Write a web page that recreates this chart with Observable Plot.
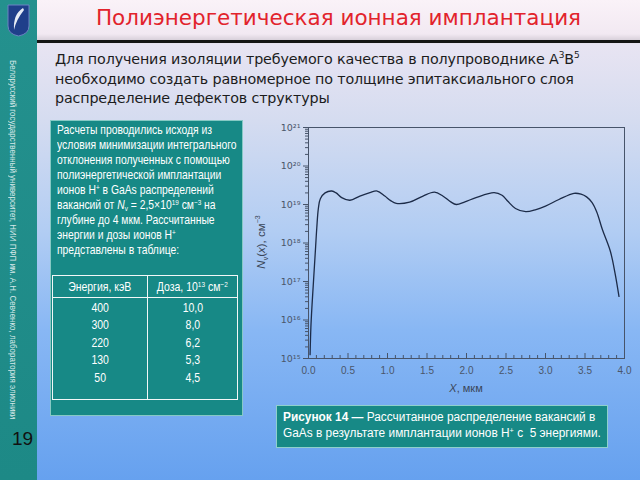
<!DOCTYPE html>
<html><head><meta charset="utf-8">
<script src="https://cdn.jsdelivr.net/npm/d3@7"></script>
<script src="https://cdn.jsdelivr.net/npm/@observablehq/plot@0.6"></script>
<style>
html,body{margin:0;padding:0;}
body{width:640px;height:480px;overflow:hidden;position:relative;font-family:"Liberation Sans",Arial,sans-serif;
background:linear-gradient(to bottom,#faf2f8 0px,#f2e9f2 34px,#d8d0da 40px,#e8e4f2 44px,#d5dcf0 120px,#b2cdf3 230px,#88b7f4 330px,#66a1ef 480px);}
.abs{position:absolute;}
#sidebar{left:0;top:0;width:37px;height:480px;background:linear-gradient(to bottom,#24918e,#1d8986);}
#rule{left:37px;top:40px;width:603px;height:3px;background:#151515;}
#title{left:37px;width:603px;top:5px;text-align:center;font-family:"DejaVu Sans",sans-serif;font-size:21.5px;color:#e2232c;}
#para{left:55px;top:50px;font-family:"DejaVu Sans",sans-serif;font-size:14.3px;line-height:19.5px;color:#1c1c1c;letter-spacing:-0.15px;}
#para sup{font-size:9px;vertical-align:6px;line-height:0;}
#vert{left:8px;top:60px;writing-mode:vertical-rl;font-size:9px;color:#d6e8e8;white-space:nowrap;transform:scaleY(0.885);transform-origin:0 0;}
#page{left:12px;top:428px;font-size:19px;color:#111;}
#box{left:50px;top:120px;width:191px;height:294px;background:#178986;border:1px solid #86c9c4;}
#boxtext{left:57px;top:123px;color:#fff;font-size:12.2px;line-height:15px;white-space:nowrap;transform:scaleX(0.85);transform-origin:0 0;}
#boxtext sup{font-size:7.5px;vertical-align:4px;line-height:0;}
#boxtext sub{font-size:7.5px;vertical-align:-2px;line-height:0;}
table{border-collapse:collapse;color:#fff;font-size:12.2px;}
#tbl{left:52px;top:275px;width:186px;height:125px;}
#tbl td,#tbl th{border:1.5px solid #f2f7f7;text-align:center;font-weight:normal;padding:0;}
#tbl th{height:21px;}
#tbl td{vertical-align:top;line-height:17.4px;padding-top:2px;}
#tbl span{display:inline-block;transform:scaleX(0.86);white-space:nowrap;}
#tbl sup{font-size:7.5px;vertical-align:4px;line-height:0;}
#caption{left:276px;top:405px;width:330px;height:41px;background:#178986;border:1px solid #8fd0cb;}
#captext{left:283px;top:410px;color:#fff;font-size:12.3px;line-height:15.5px;white-space:nowrap;transform:scaleX(0.965);transform-origin:0 0;}
#captext sup{font-size:7.5px;vertical-align:4px;line-height:0;}
#chart{left:254px;top:110px;}
#ylab{left:221px;top:236px;width:80px;text-align:center;transform:rotate(-90deg);font-size:11.5px;color:#3a4658;white-space:nowrap;}
#ylab sub,#ylab sup{font-size:7px;line-height:0;}
#xlab{left:426px;top:382px;width:80px;text-align:center;font-size:11px;color:#3a4658;}
</style></head>
<body>
<div id="sidebar" class="abs"></div>
<svg class="abs" style="left:7px;top:4px" width="23" height="33" viewBox="0 0 23 33">
<path d="M1,1 H22 V22 Q22,30 11.5,32 Q1,30 1,22 Z" fill="#1f3f8a" stroke="#6b83c2" stroke-width="1"/>
<path d="M16,4 Q6,10 7,26 Q9,16 17,6 Z" fill="#e6ecf6"/>
</svg>
<div id="rule" class="abs"></div>
<div id="title" class="abs">Полиэнергетическая ионная имплантация</div>
<div id="para" class="abs">Для получения изоляции требуемого качества в полупроводнике A<sup>3</sup>B<sup>5</sup><br>необходимо создать равномерное по толщине эпитаксиального слоя<br>распределение дефектов структуры</div>
<div id="vert" class="abs">Белорусский государственный университет, НИИ ПФП им. А.Н. Севченко, лаборатория элионики</div>
<div id="page" class="abs">19</div>
<div id="box" class="abs"></div>
<div id="boxtext" class="abs">Расчеты проводились исходя из<br>условия минимизации интегрального<br>отклонения полученных с помощью<br>полиэнергетической имплантации<br>ионов H<sup>+</sup> в GaAs распределений<br>вакансий от <i>N</i><sub>v</sub> = 2,5×10<sup>19</sup> см<sup>−3</sup> на<br>глубине до 4 мкм. Рассчитанные<br>энергии и дозы ионов H<sup>+</sup><br>представлены в таблице:</div>
<table id="tbl" class="abs"><tr><th style="width:94px"><span>Энергия, кэВ</span></th><th><span>Доза, 10<sup>13</sup> см<sup>−2</sup></span></th></tr>
<tr><td><span id="ecol"></span></td><td><span id="dcol"></span></td></tr></table>
<div id="chart" class="abs"></div>
<div id="ylab" class="abs"><i>N</i><sub>v</sub>(<i>x</i>), см<sup>−3</sup></div>
<div id="xlab" class="abs"><i>X</i>, мкм</div>
<div id="caption" class="abs"></div>
<div id="captext" class="abs"><b>Рисунок 14 —</b> Рассчитанное распределение вакансий в<br>GaAs в результате имплантации ионов H<sup>+</sup> с&nbsp; 5 энергиями.</div>
<script>
// Table data
const energies = ["400", "300", "220", "130", "50"];
const doses = ["10,0", "8,0", "6,2", "5,3", "4,5"];
// Curve data: depth (µm) and vacancy concentration (cm^-3)
const depth = [0.02,0.03,0.045,0.06,0.075,0.09,0.105,0.125,0.15,0.21,0.295,0.35,0.42,0.525,0.65,0.777,0.869,0.966,1.04,1.11,1.28,1.45,1.595,1.70,1.80,1.87,1.98,2.12,2.35,2.45,2.52,2.62,2.75,2.88,3.00,3.17,3.36,3.45,3.52,3.59,3.65,3.72,3.82,3.88,3.93];
const vacancies = [1.26e15,6.3e15,2.5e16,7.9e16,2.5e17,7.9e17,2.5e18,7.9e18,1.41e19,2.0e19,2.24e19,2.0e19,1.51e19,1.29e19,1.66e19,2.04e19,2.24e19,1.66e19,1.26e19,1.07e19,1.15e19,1.66e19,2.09e19,1.66e19,1.17e19,1.0e19,1.17e19,1.51e19,2.04e19,1.74e19,1.23e19,7.9e18,6.5e18,7.4e18,9.1e18,1.35e19,1.95e19,1.86e19,1.58e19,1.12e19,6.3e18,2.24e18,6.2e17,1.66e17,4.1e16];
// Ticks
const xTicks = [0, 0.5, 1.0, 1.5, 2.0, 2.5, 3.0, 3.5, 4.0];
const xMinorTicks = [0.1,0.2,0.3,0.4,0.6,0.7,0.8,0.9,1.1,1.2,1.3,1.4,1.6,1.7,1.8,1.9,2.1,2.2,2.3,2.4,2.6,2.7,2.8,2.9,3.1,3.2,3.3,3.4,3.6,3.7,3.8,3.9];
const yTicks = [1e15, 1e16, 1e17, 1e18, 1e19, 1e20, 1e21];
const yMinorTicks = yTicks.slice(0, -1).flatMap(p => [2,3,4,5,6,7,8,9].map(m => m * p));

document.getElementById("ecol").innerHTML = energies.join("<br>");
document.getElementById("dcol").innerHTML = doses.join("<br>");

const sup = {"0":"⁰","1":"¹","2":"²","3":"³","4":"⁴","5":"⁵","6":"⁶","7":"⁷","8":"⁸","9":"⁹"};
const fmtPow = d => "10" + String(Math.round(Math.log10(d))).replace(/\d/g, c => sup[c]);
const data = depth.map((x, i) => ({x, v: vacancies[i]}));
const axisColor = "#47546a";

const chart = Plot.plot({
  width: 386, height: 290,
  marginLeft: 54, marginRight: 16, marginTop: 17, marginBottom: 42,
  style: {background: "transparent", color: axisColor, fontFamily: "Liberation Sans, Arial, sans-serif", fontSize: "10px"},
  x: {domain: [0, 4]},
  y: {type: "log", domain: [1e15, 1e21]},
  marks: [
    Plot.frame({stroke: axisColor, strokeWidth: 1}),
    Plot.axisX(xTicks, {tickSize: -5, text: null, stroke: axisColor, label: null}),
    Plot.axisX(xMinorTicks, {tickSize: -3, text: null, stroke: axisColor, label: null}),
    Plot.axisX(xTicks, {tickSize: 0, tickPadding: 8, tickFormat: d => d.toFixed(1), label: null, fill: "#4a566a"}),
    Plot.axisY(yTicks, {tickSize: 5, tickPadding: 3, tickFormat: fmtPow, label: null, stroke: axisColor, fill: "#4a566a", fontSize: 9.5, fontFamily: "DejaVu Sans"}),
    Plot.axisY(yMinorTicks, {tickSize: 3, text: null, stroke: axisColor, label: null}),
    Plot.line(data, {x: "x", y: "v", stroke: "#1c2b48", strokeWidth: 1.3, curve: "catmull-rom"})
  ]
});
document.getElementById("chart").appendChild(chart);
</script>
</body></html>
